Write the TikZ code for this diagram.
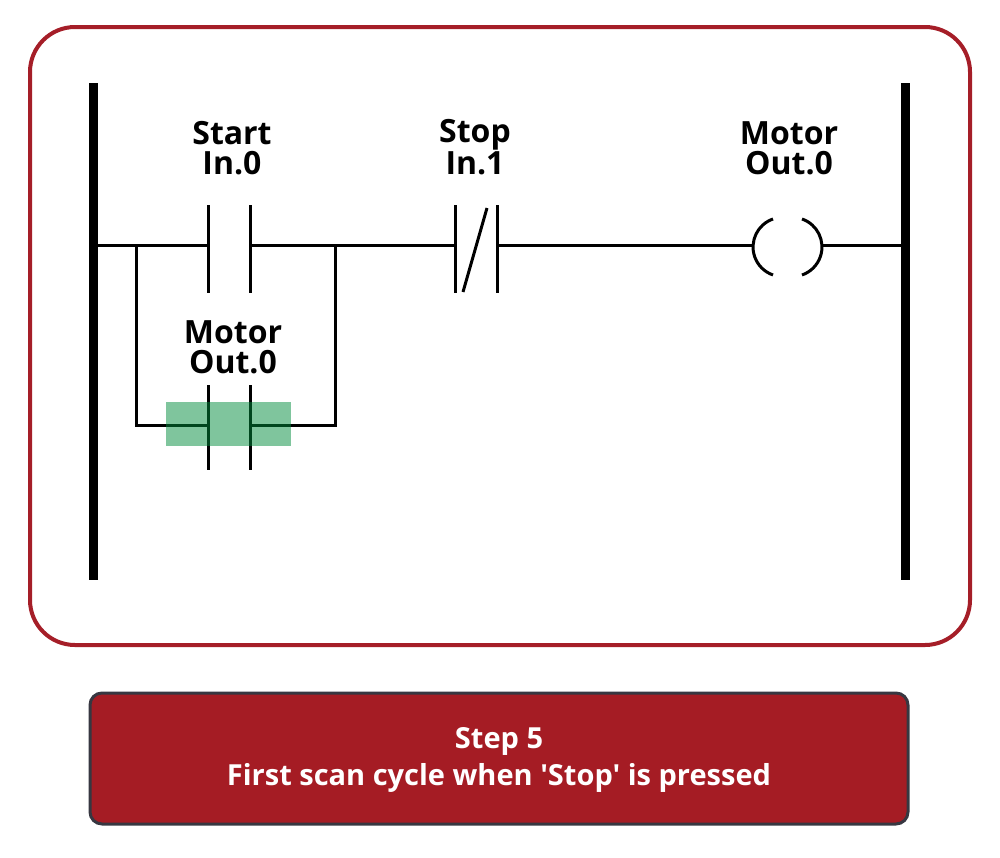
\documentclass[tikz,border=0pt]{standalone}
\usepackage{fontspec}
\setmainfont{Open Sans}[Ligatures=TeXOff]
\definecolor{frame}{RGB}{165,30,40}
\definecolor{boxred}{RGB}{165,28,36}
\definecolor{boxedge}{RGB}{55,55,65}
\definecolor{hl}{RGB}{0,140,60}
\begin{document}
\begin{tikzpicture}[x=1pt,y=-1pt,
  wire/.style={line width=3pt,black},
  rail/.style={line width=9pt,black},
  lbl/.style={font=\fontsize{32}{30}\selectfont\bfseries,align=center,inner sep=0pt,anchor=base},
  ]
\useasboundingbox (0,0) rectangle (1000,857);
% outer frame
\draw[frame,line width=4pt,rounded corners=45pt] (30,27) rectangle (970,645);
% rails
\coordinate (LT) at (93,83); \coordinate (LB) at (93,580);
\coordinate (RT) at (905,83); \coordinate (RB) at (905,580);
\draw[rail] (LT) -- (LB);
\draw[rail] (RT) -- (RB);
% main rung coordinates
\coordinate (L0) at (93,245);
\coordinate (Sa) at (208,245); \coordinate (Sb) at (250,245);
\coordinate (Ja) at (136,245); \coordinate (Jb) at (335,245);
\coordinate (Pa) at (455,245); \coordinate (Pb) at (497,245);
\coordinate (Ca) at (753,245); \coordinate (Cb) at (823,245);
\coordinate (R0) at (905,245);
\draw[wire] (L0) -- (Sa);
\draw[wire] (Sb) -- (Pa);
\draw[wire] (Pb) -- (Ca);
\draw[wire] (Cb) -- (R0);
% start contact plates
\draw[wire] (208,205) -- (208,293);
\draw[wire] (250,205) -- (250,293);
% stop contact plates and slash
\draw[wire] (455,205) -- (455,293);
\draw[wire] (497,205) -- (497,293);
\draw[wire] (463,292) -- (487,208);
% coil
\draw[wire] (773,219) arc[start angle=-109,end angle=-251,radius=29.6];
\draw[wire] (802,219) arc[start angle=-71,end angle=71,radius=29.6];
% branch
\coordinate (Ba) at (136,425); \coordinate (Bb) at (335,425);
\coordinate (Ma) at (208,425); \coordinate (Mb) at (250,425);
\draw[wire] (Ja) -- (Ba) -- (Ma);
\draw[wire] (Mb) -- (Bb) -- (Jb);
\draw[wire] (208,385) -- (208,470);
\draw[wire] (250,385) -- (250,470);
% highlight
\fill[hl,opacity=0.5] (166,402) rectangle (291,446);
% labels
\node[lbl] (t1) at (232,174) {Start\\In.0};
\node[lbl] (t2) at (475,174) {Stop\\In.1};
\node[lbl] (t3) at (789,174) {Motor\\Out.0};
\node[lbl] (t4) at (233,373) {Motor\\Out.0};
% bottom box
\draw[boxedge,fill=boxred,line width=3pt,rounded corners=12pt] (90,693) rectangle (908,824);
\node[font=\fontsize{29}{37}\selectfont\bfseries,text=white,align=center,inner sep=0pt] (cap) at (499,760) {Step 5\\First scan cycle when 'Stop' is pressed};
\end{tikzpicture}
\end{document}
